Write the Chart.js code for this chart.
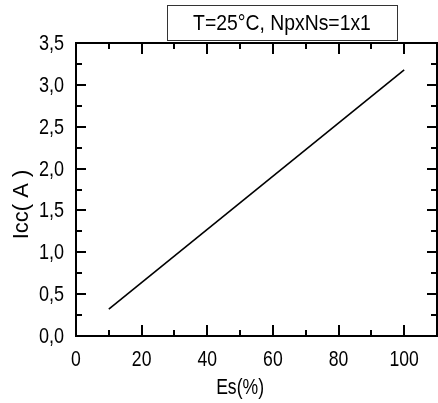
<!DOCTYPE html>
<html>
<head>
<meta charset="utf-8">
<script src="https://cdn.jsdelivr.net/npm/chart.js@4.4.1/dist/chart.umd.min.js"></script>
<style>
  html, body { margin: 0; padding: 0; background: #fff; }
  #wrap { width: 438px; height: 403px; }
</style>
</head>
<body>
<div id="wrap"><canvas id="iccChart" width="438" height="403"></canvas></div>
<script>
// Short-circuit current against irradiance
const esValues = [10, 100];
const iccValues = [0.32, 3.18];

const xMajorTicks = [0, 20, 40, 60, 80, 100];
const xMinorTicks = [10, 30, 50, 70, 90, 110];
const xTickLabels = ['0', '20', '40', '60', '80', '100'];
const yMajorTicks = [0, 0.5, 1, 1.5, 2, 2.5, 3, 3.5];
const yMinorTicks = [0.25, 0.75, 1.25, 1.75, 2.25, 2.75, 3.25];
const yTickLabels = ['0,0', '0,5', '1,0', '1,5', '2,0', '2,5', '3,0', '3,5'];

const xTitle = 'Es(%)';
const yTitle = 'Icc( A )';
const boxText = 'T=25°C, NpxNs=1x1';
const FONT = "'Liberation Sans', Arial, sans-serif";

// narrow text: Liberation Sans squeezed horizontally
function narrowText(ctx, text, x, y, align, squeeze, rot) {
    ctx.save();
    ctx.translate(x, y);
    if (rot) ctx.rotate(rot);
    ctx.scale(squeeze, 1);
    ctx.font = '22px ' + FONT;
    ctx.fillStyle = '#000';
    ctx.textAlign = align;
    ctx.textBaseline = 'alphabetic';
    ctx.fillText(text, 0, 0);
    ctx.restore();
}

// frame on all four sides with inward ticks, mirrored top/right
const frameTicks = {
    id: 'frameTicks',
    afterDatasetsDraw(chart) {
        const {ctx, chartArea: a, scales: {x, y}} = chart;
        ctx.save();
        ctx.strokeStyle = '#000';
        ctx.lineWidth = 2;
        ctx.strokeRect(a.left, a.top, a.right - a.left, a.bottom - a.top);
        ctx.beginPath();
        const xTick = (vals, len) => vals.forEach(v => {
            const px = Math.round(x.getPixelForValue(v));
            ctx.moveTo(px, a.bottom); ctx.lineTo(px, a.bottom - len);
            ctx.moveTo(px, a.top); ctx.lineTo(px, a.top + len);
        });
        const yTick = (vals, len) => vals.forEach(v => {
            const py = Math.round(y.getPixelForValue(v));
            ctx.moveTo(a.left, py); ctx.lineTo(a.left + len, py);
            ctx.moveTo(a.right, py); ctx.lineTo(a.right - len, py);
        });
        xTick(xMajorTicks, 11);
        xTick(xMinorTicks, 6);
        yTick(yMajorTicks, 10);
        yTick(yMinorTicks, 6);
        ctx.stroke();
        ctx.restore();
    }
};

// tick labels and axis titles placed from the scales
const axisText = {
    id: 'axisText',
    afterDraw(chart) {
        const {ctx, chartArea: a, scales: {x, y}} = chart;
        xMajorTicks.forEach((v, i) => {
            narrowText(ctx, xTickLabels[i], x.getPixelForValue(v), a.bottom + 30, 'center', 0.8);
        });
        yMajorTicks.forEach((v, i) => {
            narrowText(ctx, yTickLabels[i], a.left - 12, y.getPixelForValue(v) + 7, 'right', 0.82);
        });
        narrowText(ctx, xTitle, x.getPixelForValue(50), a.bottom + 58, 'center', 0.8);
        narrowText(ctx, yTitle, 28, (a.top + a.bottom) / 2 + 15, 'center', 1, -Math.PI / 2);
    }
};

// boxed condition label above the plot
const conditionBox = {
    id: 'conditionBox',
    afterDraw(chart, args, opts) {
        const ctx = chart.ctx;
        ctx.save();
        ctx.strokeStyle = '#333';
        ctx.lineWidth = 1;
        ctx.strokeRect(opts.left + 0.5, opts.top + 0.5, opts.right - opts.left, opts.bottom - opts.top);
        ctx.restore();
        narrowText(ctx, opts.text, (opts.left + opts.right) / 2, opts.bottom - 10, 'center', 0.88);
    }
};

const ctx = document.getElementById('iccChart').getContext('2d');
new Chart(ctx, {
    type: 'scatter',
    data: {
        datasets: [{
            data: esValues.map((v, i) => ({x: v, y: iccValues[i]})),
            showLine: true,
            borderColor: '#000',
            borderWidth: 1.6,
            pointRadius: 0,
            fill: false
        }]
    },
    options: {
        responsive: false,
        animation: false,
        devicePixelRatio: 1,
        layout: {padding: {left: 0, top: 43, right: 1, bottom: 0}},
        plugins: {
            legend: {display: false},
            tooltip: {enabled: false},
            conditionBox: {left: 167, top: 5, right: 397, bottom: 40, text: boxText}
        },
        scales: {
            x: {
                type: 'linear',
                min: 0,
                max: 110,
                afterBuildTicks: s => { s.ticks = xMajorTicks.map(v => ({value: v})); },
                afterFit: s => { s.height = 67; },
                grid: {display: false, drawTicks: false},
                border: {display: false},
                ticks: {display: false}
            },
            y: {
                type: 'linear',
                min: 0,
                max: 3.5,
                afterBuildTicks: s => { s.ticks = yMajorTicks.map(v => ({value: v})); },
                afterFit: s => { s.width = 76; },
                grid: {display: false, drawTicks: false},
                border: {display: false},
                ticks: {display: false}
            }
        }
    },
    plugins: [frameTicks, axisText, conditionBox]
});
</script>
</body>
</html>
